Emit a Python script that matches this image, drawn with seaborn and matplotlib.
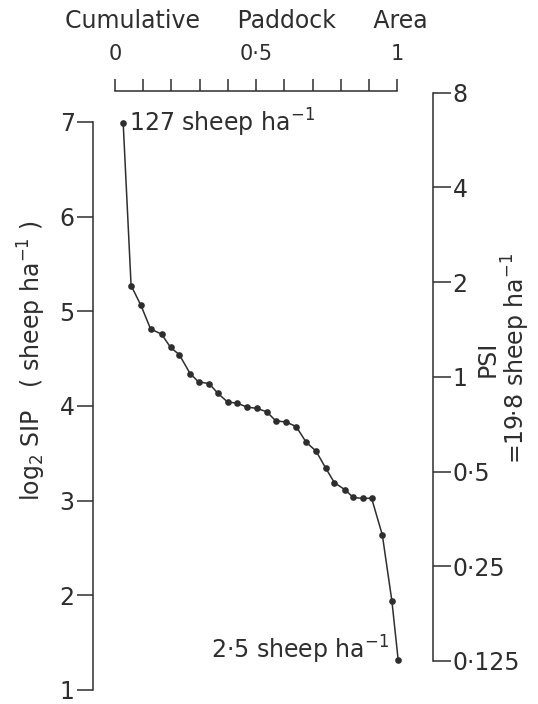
import numpy as np
import pandas as pd
import matplotlib
matplotlib.use("Agg")
import matplotlib.pyplot as plt
from matplotlib.ticker import FixedLocator
import seaborn as sns

# Cumulative paddock area (fraction) at each sampling point, ranked by intensity
area = [0.029, 0.057, 0.092, 0.126, 0.165, 0.197, 0.228, 0.266, 0.296, 0.333,
        0.365, 0.399, 0.433, 0.467, 0.502, 0.537, 0.570, 0.606, 0.642, 0.677,
        0.712, 0.747, 0.777, 0.815, 0.844, 0.877, 0.909, 0.947, 0.981, 1.003]

# Stocking intensity at the extreme points (sheep per ha)
sip_top = 127
sip_bottom = 2.5

# log2 SIP for the intermediate points
log2_sip_mid = [5.272, 5.062, 4.814, 4.758, 4.618, 4.541, 4.342, 4.254, 4.237,
                4.132, 4.041, 4.030, 3.988, 3.975, 3.939, 3.842, 3.831, 3.782,
                3.618, 3.524, 3.341, 3.191, 3.114, 3.034, 3.023, 3.026, 2.638,
                1.939]

# Paddock stocking intensity used to scale the right-hand axis
psi_ref = 19.8
psi_ticks = [0.125, 0.25, 0.5, 1, 2, 4, 8]
psi_labels = ["0·125", "0·25", "0·5", "1", "2", "4", "8"]

area_ticks = [0, 0.5, 1]
area_labels = ["0", "0·5", "1"]
area_minor = [i / 10 for i in range(11)]
sip_ticks = [1, 2, 3, 4, 5, 6, 7]

log2_sip = [np.log2(sip_top)] + log2_sip_mid + [np.log2(sip_bottom)]
df = pd.DataFrame({"area": area, "log2_sip": log2_sip})

sns.set_style("white")
plt.rcParams["font.family"] = ["DejaVu Sans"]
plt.rcParams["mathtext.fontset"] = "dejavusans"

ink = "#2e2e2e"
lw = 1.1
fs = 17

fig = plt.figure(figsize=(5.38, 7.04), dpi=100)
ax = fig.add_axes([0.1723, 0.0199, 0.6325, 0.8513])

sns.lineplot(data=df, x="area", y="log2_sip", sort=False, estimator=None,
             color=ink, lw=lw, marker="o", markersize=4.8,
             markeredgewidth=0, clip_on=False, ax=ax)

ax.set_xlim(-0.079, 1.1265)
ax.set_ylim(1, 7.330)

# Top axis: cumulative paddock area
ax.xaxis.tick_top()
ax.xaxis.set_label_position("top")
ax.xaxis.set_major_locator(FixedLocator(area_ticks))
ax.xaxis.set_minor_locator(FixedLocator(area_minor))
ax.set_xticklabels(area_labels)
ax.tick_params(axis="x", which="both", direction="out", length=9, width=lw,
               color=ink, pad=10, labelsize=15, labelcolor=ink,
               top=True, bottom=False, labeltop=True, labelbottom=False)
ax.set_xlabel("Cumulative     Paddock     Area", fontsize=fs, color=ink)
ax.xaxis.set_label_coords(0.4505, 1.104)
ax.xaxis.label.set_va("baseline")

# Left axis: log2 SIP
ax.set_yticks(sip_ticks)
ax.set_yticklabels([str(t) for t in sip_ticks])
ax.tick_params(axis="y", direction="out", length=11.5, width=lw, color=ink,
               pad=1.5, labelsize=fs, labelcolor=ink, left=True)
ax.set_ylabel("log$_2$ SIP   ( sheep ha$^{-1}$ )", fontsize=fs, color=ink)
ax.yaxis.set_label_coords(-0.178, 0.55)
ax.yaxis.label.set_va("center")

for side in ["bottom", "right"]:
    ax.spines[side].set_visible(False)
ax.spines["top"].set_bounds(0, 1)
ax.spines["left"].set_bounds(sip_ticks[0], sip_ticks[-1])
for side in ["top", "left"]:
    ax.spines[side].set_color(ink)
    ax.spines[side].set_linewidth(lw)

# Right axis: PSI, same scale shifted by log2 of the reference intensity
ax2 = ax.twinx()
ax2.set_ylim(ax.get_ylim())
psi_pos = np.log2(np.array(psi_ticks) * psi_ref)
ax2.set_yticks(psi_pos)
ax2.set_yticklabels(psi_labels)
ax2.tick_params(axis="y", direction="out", length=13, width=lw, color=ink,
                pad=1, labelsize=fs, labelcolor=ink)
for side in ["top", "bottom", "left"]:
    ax2.spines[side].set_visible(False)
ax2.spines["right"].set_bounds(psi_pos[0], psi_pos[-1])
ax2.spines["right"].set_color(ink)
ax2.spines["right"].set_linewidth(lw)
ax2.set_ylabel("PSI\n=19·8 sheep ha$^{-1}$", fontsize=fs, color=ink,
               rotation=90, linespacing=1.0)
ax2.yaxis.set_label_coords(1.208, 0.553)
ax2.yaxis.label.set_va("center")
ax2.yaxis.label.set_ha("center")

# End-point annotations
ax.annotate(f"{sip_top} sheep ha$^{{-1}}$", xy=(area[0], log2_sip[0]),
            xytext=(4, -6), textcoords="offset points", ha="left",
            va="baseline", fontsize=fs, color=ink)
ax.annotate(f"{sip_bottom:g}".replace(".", "·") + " sheep ha$^{-1}$",
            xy=(area[-1], log2_sip[-1]), xytext=(-6, 1),
            textcoords="offset points", ha="right", va="baseline",
            fontsize=fs, color=ink)

fig.savefig("out.png", dpi=100)
